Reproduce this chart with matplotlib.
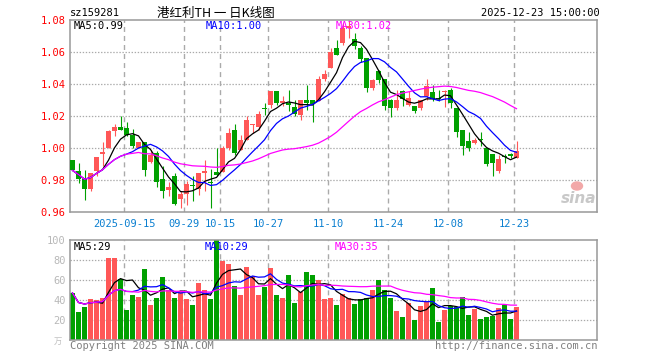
import numpy as np
import pandas as pd
import matplotlib
matplotlib.use("Agg")
import matplotlib.pyplot as plt
from matplotlib.patches import Ellipse

plt.rcParams['lines.scale_dashes'] = False

# ---------------- data ----------------
opens = [0.9925, 0.9858, 0.9808, 0.9746, 0.9858, 0.9960, 1.0000, 1.0104, 1.0133, 1.0127,
         1.0081, 1.0000, 1.0035, 0.9915, 0.9969, 0.9808, 0.9738, 0.9823, 0.9679, 0.9713,
         0.9767, 0.9744, 0.9846, 0.9785, 0.9850, 0.9850, 1.0000, 1.0115, 0.9990, 1.0052,
         1.0146, 1.0131, 1.0250, 1.0267, 1.0354, 1.0285, 1.0281, 1.0254, 1.0204, 1.0302,
         1.0298, 1.0292, 1.0431, 1.0500, 1.0625, 1.0656, 1.0750, 1.0681, 1.0625, 1.0563,
         1.0375, 1.0483, 1.0431, 1.0302, 1.0250, 1.0354, 1.0271, 1.0265, 1.0250, 1.0323,
         1.0348, 1.0315, 1.0352, 1.0363, 1.0252, 1.0113, 1.0044, 1.0029, 1.0056, 1.0002,
         0.9965, 0.9858, 0.9948, 0.9958, 0.9940]
highs = [0.9925, 0.9906, 0.9865, 0.9846, 0.9946, 1.0035, 1.0110, 1.0152, 1.0198, 1.0165,
         1.0119, 1.0040, 1.0035, 0.9990, 0.9979, 0.9885, 0.9788, 0.9844, 0.9729, 0.9796,
         0.9823, 0.9846, 0.9927, 0.9871, 1.0000, 1.0010, 1.0125, 1.0150, 1.0079, 1.0198,
         1.0150, 1.0230, 1.0281, 1.0354, 1.0354, 1.0323, 1.0365, 1.0302, 1.0302, 1.0396,
         1.0298, 1.0448, 1.0490, 1.0625, 1.0673, 1.0780, 1.0800, 1.0719, 1.0635, 1.0563,
         1.0431, 1.0490, 1.0431, 1.0306, 1.0365, 1.0365, 1.0354, 1.0265, 1.0302, 1.0431,
         1.0394, 1.0363, 1.0363, 1.0377, 1.0252, 1.0113, 1.0102, 1.0065, 1.0098, 1.0002,
         0.9965, 0.9956, 0.9960, 0.9967, 1.0044]
lows = [0.9860, 0.9781, 0.9673, 0.9729, 0.9823, 0.9885, 1.0000, 1.0073, 1.0110, 1.0073,
        1.0000, 1.0000, 0.9827, 0.9908, 0.9756, 0.9688, 0.9698, 0.9646, 0.9625, 0.9646,
        0.9667, 0.9708, 0.9729, 0.9625, 0.9823, 0.9850, 0.9990, 0.9958, 0.9990, 1.0052,
        1.0094, 1.0115, 1.0208, 1.0250, 1.0271, 1.0260, 1.0229, 1.0198, 1.0177, 1.0240,
        1.0160, 1.0292, 1.0417, 1.0500, 1.0583, 1.0646, 1.0688, 1.0619, 1.0535, 1.0348,
        1.0365, 1.0406, 1.0235, 1.0194, 1.0240, 1.0265, 1.0260, 1.0219, 1.0240, 1.0302,
        1.0294, 1.0294, 1.0258, 1.0248, 1.0071, 0.9956, 0.9981, 1.0023, 1.0015, 0.9890,
        0.9827, 0.9842, 0.9904, 0.9935, 0.9935]
closes = [0.9860, 0.9808, 0.9746, 0.9846, 0.9946, 0.9977, 1.0104, 1.0133, 1.0115, 1.0081,
          1.0015, 1.0035, 0.9865, 0.9958, 0.9785, 0.9729, 0.9758, 0.9652, 0.9713, 0.9777,
          0.9763, 0.9846, 0.9858, 0.9780, 0.9833, 1.0000, 1.0094, 0.9969, 1.0052, 1.0177,
          1.0150, 1.0213, 1.0246, 1.0354, 1.0281, 1.0290, 1.0267, 1.0215, 1.0302, 1.0281,
          1.0277, 1.0431, 1.0465, 1.0598, 1.0583, 1.0750, 1.0765, 1.0640, 1.0556, 1.0375,
          1.0427, 1.0427, 1.0265, 1.0250, 1.0302, 1.0306, 1.0313, 1.0229, 1.0302, 1.0385,
          1.0306, 1.0306, 1.0356, 1.0279, 1.0098, 1.0015, 1.0002, 1.0050, 1.0052, 0.9898,
          0.9908, 0.9929, 0.9944, 0.9954, 0.9981]
volumes = [47, 28, 33, 41, 40, 42, 82, 82, 61, 30,
           45, 43, 71, 35, 42, 63, 50, 42, 48, 41,
           35, 57, 50, 41, 101, 79, 76, 54, 45, 73,
           64, 45, 53, 72, 45, 42, 65, 37, 48, 68,
           65, 60, 41, 42, 35, 46, 42, 36, 41, 42,
           50, 60, 50, 42, 29, 23, 37, 20, 34, 38,
           52, 18, 30, 34, 33, 43, 25, 31, 21, 23,
           24, 32, 35, 21, 33]

tick_idx = [9, 19, 25, 33, 43, 53, 63, 74]
tick_labels = ["2025-09-15", "09-29", "10-15", "10-27", "11-10", "11-24", "12-08", "12-23"]
price_ticks = [0.96, 0.98, 1.00, 1.02, 1.04, 1.06, 1.08]
vol_ticks = [20, 40, 60, 80, 100]

code = "sz159281"
title = "港红利TH 一 日K线图"
stamp = "2025-12-23 15:00:00"

# ---------------- styling ----------------
UP = "#ff5757"
DOWN = "#00a000"
GRID = "#aaaaaa"
FRAME = "#999999"
MONO = "DejaVu Sans Mono"

o = np.array(opens); h = np.array(highs); l = np.array(lows); c = np.array(closes)
v = np.array(volumes, dtype=float)
n = len(c)
x = np.arange(n)
up = c >= o
cols = np.where(up, UP, DOWN)

cs = pd.Series(c)
ma5 = cs.rolling(5, min_periods=1).mean().values
ma10 = cs.rolling(10, min_periods=1).mean().values
ma30 = cs.rolling(30, min_periods=1).mean().values
vs = pd.Series(v)
vma5 = vs.rolling(5, min_periods=1).mean().values
vma10 = vs.rolling(10, min_periods=1).mean().values
vma30 = vs.rolling(30, min_periods=1).mean().values

W, H = 660, 360
fig = plt.figure(figsize=(W / 100, H / 100), dpi=100)
fig.patch.set_facecolor("white")

def fx(px):
    return px / W

def fy(py):
    return 1 - py / H

L, R = 70, 597
ax = fig.add_axes([fx(L), fy(212), (R - L) / W, 192 / H])
axv = fig.add_axes([fx(L), fy(340), (R - L) / W, 100 / H])

x0 = -0.4167
x1 = x0 + (R - L) / 6.0
grid_x = [t - 0.37 for t in tick_idx]

for a in (ax, axv):
    a.set_xlim(x0, x1)
    for s in a.spines.values():
        s.set_color(FRAME)
        s.set_linewidth(1.1)
    for gx in grid_x:
        a.axvline(gx, color=GRID, lw=1.0, ls=(0, (3.6, 2.9)), zorder=0)
    a.tick_params(length=0)

# ---- main chart ----
ax.set_ylim(0.96, 1.08)
for yv in price_ticks[1:-1]:
    ax.axhline(yv, color=GRID, lw=0.9, ls=(0, (1.0, 1.2)), zorder=0)

body_w = 5 / 6.0
ax.vlines(x, l, h, colors=cols, lw=0.8, zorder=2)
bh = np.abs(c - o)
bh = np.where(bh < 0.0007, 0.0007, bh)
bottom = np.minimum(o, c)
bottom = np.where(np.abs(c - o) < 0.0007, (o + c) / 2 - 0.00035, bottom)
ax.bar(x, bh, bottom=bottom, width=body_w, color=cols, linewidth=0, zorder=3)

ax.plot(x, ma5, color="black", lw=0.9, zorder=4)
ax.plot(x, ma10, color="#0000ff", lw=0.9, zorder=4)
ax.plot(x, ma30, color="#ff00ff", lw=0.9, zorder=4)

ax.set_yticks(price_ticks)
ax.set_yticklabels([f"{t:.2f}" for t in price_ticks], color="red", family=MONO, fontsize=7.5)
ax.tick_params(axis="y", pad=3)
ax.set_xticks(grid_x)
ax.set_xticklabels(tick_labels, color="#0a7fd0", family=MONO, fontsize=7.5)
ax.tick_params(axis="x", pad=5)

# ---- volume chart ----
axv.set_ylim(0, 100)
for yv in vol_ticks[:-1]:
    axv.axhline(yv, color=GRID, lw=0.9, ls=(0, (1.0, 1.2)), zorder=0)
axv.bar(x, v, width=body_w, color=cols, linewidth=0, zorder=2)
axv.plot(x, vma5, color="black", lw=0.9, zorder=4)
axv.plot(x, vma10, color="#0000ff", lw=0.9, zorder=4)
axv.plot(x, vma30, color="#ff00ff", lw=0.9, zorder=4)
axv.set_xticks([])
axv.set_yticks(vol_ticks)
axv.set_yticklabels([str(t) for t in vol_ticks], color="#b8b8b8", family=MONO, fontsize=7.5)
axv.tick_params(axis="y", pad=3)

# ---- texts ----
fs = 7.5
fig.text(fx(70), fy(13), code, family=MONO, fontsize=fs, va="center", ha="left")
fig.text(fx(216), fy(13), title, family=["Noto Sans CJK SC", "DejaVu Sans"], fontsize=9,
         va="center", ha="center")
fig.text(fx(600), fy(13), stamp, family=MONO, fontsize=fs, va="center", ha="right")

fig.text(fx(74), fy(26), f"MA5:{ma5[-1]:.2f}", family=MONO, fontsize=fs, va="center", color="black")
fig.text(fx(206), fy(26), f"MA10:{ma10[-1]:.2f}", family=MONO, fontsize=fs, va="center", color="#0000ff")
fig.text(fx(336), fy(26), f"MA30:{ma30[-1]:.2f}", family=MONO, fontsize=fs, va="center", color="#ff00ff")

fig.text(fx(74), fy(247), f"MA5:{vma5[-1]:.0f}", family=MONO, fontsize=fs, va="center", color="black")
fig.text(fx(205), fy(247), f"MA10:{vma10[-1]:.0f}", family=MONO, fontsize=fs, va="center", color="#0000ff")
fig.text(fx(335), fy(247), f"MA30:{vma30[-1]:.0f}", family=MONO, fontsize=fs, va="center", color="#ff00ff")

fig.text(fx(70), fy(346), "Copyright 2025 SINA.COM", family=MONO, fontsize=fs, va="center",
         ha="left", color="#808080")
fig.text(fx(597), fy(346), "http://finance.sina.com.cn", family=MONO, fontsize=fs, va="center",
         ha="right", color="#808080")
fig.text(fx(62), fy(341), "万", family=["Noto Sans CJK SC", "DejaVu Sans"], fontsize=6,
         va="center", ha="right", color="#c0c0c0")

# sina watermark
fig.text(fx(596), fy(198), "sina", family="DejaVu Sans", fontsize=11, fontweight="bold",
         style="italic", va="center", ha="right", color="#c8c8c8")
fig.add_artist(Ellipse((fx(577), fy(186)), 11 / W, 8 / H, color="#f2a8a8",
                       transform=fig.transFigure))

fig.savefig("out.png", dpi=100, facecolor="white")
